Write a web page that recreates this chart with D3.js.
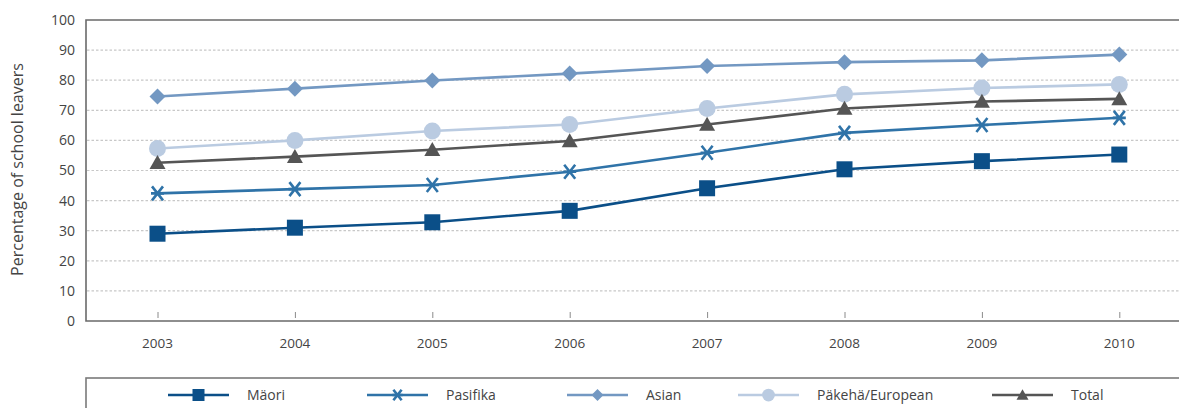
<!DOCTYPE html>
<html>
<head>
<meta charset="utf-8">
<script src="https://cdn.jsdelivr.net/npm/d3@7"></script>
<style>
  html, body { margin: 0; padding: 0; background: #fff; }
  svg { display: block; }
  text { font-family: "Open Sans", "Noto Sans", sans-serif; fill: #444; }
</style>
</head>
<body>
<svg id="chart" width="1179" height="408"></svg>
<script>
// Years on the horizontal axis
const years = ["2003", "2004", "2005", "2006", "2007", "2008", "2009", "2010"];
const yTicks = [0, 10, 20, 30, 40, 50, 60, 70, 80, 90, 100];

// Percentage of school leavers per group
const maori    = [29.0, 31.0, 32.8, 36.6, 44.1, 50.4, 53.1, 55.3];
const pasifika = [42.4, 43.8, 45.2, 49.6, 55.9, 62.5, 65.1, 67.5];
const asian    = [74.6, 77.2, 79.9, 82.2, 84.7, 86.0, 86.6, 88.5];
const pakeha   = [57.3, 60.0, 63.1, 65.3, 70.6, 75.3, 77.4, 78.6];
const total    = [52.6, 54.6, 56.9, 59.8, 65.3, 70.6, 72.9, 73.8];

const seriesNames = ["Mäori", "Pasifika", "Asian", "Päkehä/European", "Total"];
const seriesValues = [maori, pasifika, asian, pakeha, total];
const seriesColors = ["#0b4f88", "#2f73a8", "#7398c2", "#bacbe1", "#555555"];
const seriesSymbols = ["square", "cross", "diamond", "circle", "triangle"];

const svg = d3.select("#chart");

const x = d3.scalePoint().domain(years).range([157.5, 1119.3]);
const y = d3.scaleLinear().domain([0, 100]).range([321, 20]);

// dotted gridlines
svg.append("g")
  .selectAll("line")
  .data(yTicks.filter(t => t > 0 && t < 100))
  .join("line")
  .attr("x1", 87).attr("x2", 1179)
  .attr("y1", d => y(d)).attr("y2", d => y(d))
  .attr("stroke", "#c8c8c8")
  .attr("stroke-width", 1.2)
  .attr("stroke-dasharray", "2.5,2");

// plot frame
svg.append("path")
  .attr("d", `M1179,${y(100)} H86 V${y(0)} H1179`)
  .attr("fill", "none")
  .attr("stroke", "#6a6a6a")
  .attr("stroke-width", 1.6);

// y axis labels
const yAxis = d3.axisLeft(y).tickValues(yTicks).tickSize(0).tickPadding(11);
const gy = svg.append("g").attr("transform", "translate(86,0)").call(yAxis);
gy.select(".domain").remove();
gy.selectAll("text")
  .style("font-family", '"Open Sans", "Noto Sans", sans-serif')
  .style("font-size", "14px")
  .attr("fill", "#444");

// x axis: short inner ticks + year labels
const xAxis = d3.axisTop(x).tickSize(6).tickPadding(0).tickFormat("");
const gx = svg.append("g").attr("transform", `translate(0,${y(0) - 3})`).call(xAxis);
gx.select(".domain").remove();
gx.selectAll("line").attr("stroke", "#8a8a8a").attr("stroke-width", 1);

svg.append("g")
  .selectAll("text")
  .data(years)
  .join("text")
  .attr("x", d => x(d))
  .attr("y", 348)
  .attr("text-anchor", "middle")
  .style("font-size", "13.5px")
  .text(d => d);

// y axis title
svg.append("text")
  .attr("transform", `translate(23,${y(50) - 1}) rotate(-90)`)
  .attr("text-anchor", "middle")
  .style("font-size", "16px")
  .text("Percentage of school leavers");

// marker drawing
function drawMarker(g, type, color, cx, cy, scale) {
  const s = scale || 1;
  if (type === "square") {
    g.append("rect")
      .attr("x", cx - 8 * s).attr("y", cy - 8 * s)
      .attr("width", 16 * s).attr("height", 16 * s)
      .attr("fill", color);
  } else if (type === "cross") {
    const h = 7 * s, w = 5.5 * s;
    g.append("path")
      .attr("d", `M${cx - w},${cy - h} L${cx + w},${cy + h} M${cx + w},${cy - h} L${cx - w},${cy + h} M${cx - w - 1},${cy} H${cx + w + 1}`)
      .attr("stroke", color).attr("stroke-width", 2.6).attr("fill", "none");
  } else if (type === "diamond") {
    const r = 8 * s;
    g.append("path")
      .attr("d", `M${cx},${cy - r} L${cx + r},${cy} L${cx},${cy + r} L${cx - r},${cy} Z`)
      .attr("fill", color);
  } else if (type === "circle") {
    g.append("circle").attr("cx", cx).attr("cy", cy).attr("r", 8.5 * s).attr("fill", color);
  } else if (type === "triangle") {
    const w = 8 * s, h = 14 * s;
    g.append("path")
      .attr("d", `M${cx},${cy - h * 0.55} L${cx + w},${cy + h * 0.45} L${cx - w},${cy + h * 0.45} Z`)
      .attr("fill", color);
  }
}

// lines and markers (darker series drawn last so they sit on top)
const line = d3.line().x((d, i) => x(years[i])).y(d => y(d));
const drawOrder = [2, 3, 4, 1, 0];
drawOrder.forEach(k => {
  const g = svg.append("g");
  g.append("path")
    .datum(seriesValues[k])
    .attr("d", line)
    .attr("fill", "none")
    .attr("stroke", seriesColors[k])
    .attr("stroke-width", 2.6);
  seriesValues[k].forEach((v, i) => {
    drawMarker(g, seriesSymbols[k], seriesColors[k], x(years[i]), y(v), 1);
  });
});

// legend box
svg.append("rect")
  .attr("x", 86).attr("y", 378)
  .attr("width", 1200).attr("height", 60)
  .attr("fill", "none")
  .attr("stroke", "#7a7a7a")
  .attr("stroke-width", 1.6);

const legendX = [168, 367, 567, 738, 992];
const legendY = 395;
seriesNames.forEach((name, k) => {
  const g = svg.append("g");
  const x0 = legendX[k];
  g.append("line")
    .attr("x1", x0).attr("x2", x0 + 61)
    .attr("y1", legendY).attr("y2", legendY)
    .attr("stroke", seriesColors[k]).attr("stroke-width", 2.6);
  drawMarker(g, seriesSymbols[k], seriesColors[k], x0 + 30.5, legendY, 0.75);
  g.append("text")
    .attr("x", x0 + 79)
    .attr("y", legendY)
    .attr("dy", "0.35em")
    .style("font-size", "14px")
    .text(name);
});
</script>
</body>
</html>
